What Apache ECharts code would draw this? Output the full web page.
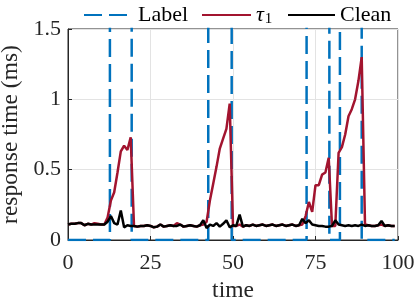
<!DOCTYPE html>
<html>
<head>
<meta charset="utf-8">
<script src="https://cdn.jsdelivr.net/npm/echarts@6/dist/echarts.min.js"></script>
<style>html,body{margin:0;padding:0;background:#fff}#c{width:415px;height:302px}</style>
</head>
<body>
<div id="c"></div>
<script>
// x ticks
const xTicks = [0, 25, 50, 75, 100];
const yTicks = [0, 0.5, 1, 1.5];
// label intervals (anomaly windows)
const labelStarts = [12.7, 42.5, 72.3, 82.4];
const labelEnds   = [19.3, 49.6, 79.2, 89.0];
const labelHigh = 2;
// response time samples, t = 0..99
const tau1 = [
0.11,0.115,0.115,0.12,0.12,0.105,0.115,0.11,0.12,0.115,
0.11,0.11,0.16,0.28,0.34,0.48,0.63,0.67,0.64,0.73,
0.10,0.095,0.10,0.10,0.105,0.10,0.09,0.095,0.11,0.095,
0.10,0.105,0.10,0.12,0.11,0.095,0.10,0.105,0.10,0.095,
0.105,0.11,0.13,0.28,0.40,0.52,0.65,0.72,0.79,0.97,
0.10,0.10,0.11,0.095,0.105,0.10,0.11,0.10,0.105,0.11,
0.10,0.105,0.11,0.10,0.105,0.11,0.10,0.105,0.11,0.10,
0.105,0.11,0.17,0.27,0.20,0.39,0.39,0.465,0.48,0.585,
0.10,0.10,0.62,0.66,0.75,0.88,0.93,1.0,1.13,1.3,
0.11,0.105,0.10,0.10,0.105,0.11,0.10,0.105,0.10,0.10
];
const clean = [
0.11,0.115,0.115,0.12,0.12,0.105,0.115,0.11,0.11,0.11,
0.11,0.11,0.13,0.17,0.12,0.11,0.21,0.09,0.105,0.10,
0.10,0.095,0.10,0.10,0.105,0.10,0.09,0.095,0.11,0.095,
0.10,0.105,0.10,0.10,0.11,0.095,0.10,0.105,0.10,0.095,
0.105,0.14,0.085,0.11,0.10,0.12,0.095,0.115,0.14,0.09,
0.105,0.10,0.18,0.095,0.105,0.10,0.11,0.10,0.105,0.11,
0.10,0.105,0.11,0.10,0.105,0.11,0.10,0.105,0.11,0.10,
0.105,0.15,0.12,0.14,0.11,0.105,0.10,0.10,0.095,0.095,
0.10,0.14,0.11,0.105,0.10,0.105,0.10,0.105,0.10,0.11,
0.10,0.105,0.10,0.10,0.105,0.135,0.10,0.105,0.10,0.10
];
const seriesNames = ['Label', 'τ1', 'Clean'];

const time = tau1.map((_, i) => i);
const labelData = [[0, 0]];
labelStarts.forEach((s, k) => {
  labelData.push([s, 0], [s, labelHigh], [labelEnds[k], labelHigh], [labelEnds[k], 0]);
});
labelData.push([99, 0]);

const FONT = 'Liberation Serif';
const TXT = '#262626';
const LF = 22;
const legendText = {fontFamily: FONT, fontSize: LF, color: '#000',
  rich: {
    i: {fontFamily: FONT, fontStyle: 'italic', fontSize: LF, color: '#000'},
    s: {fontFamily: FONT, fontSize: 15, color: '#000', padding: [8, 0, 0, 1]}
  }};
function mkLegend(name, left, width) {
  return {
    data: [name], top: -1, left: left, itemWidth: width, itemHeight: 14,
    itemStyle: {opacity: 0}, textStyle: legendText,
    formatter: n => n === 'τ1' ? '{i|τ}{s|1}' : n
  };
}
const chart = echarts.init(document.getElementById('c'), null, {renderer: 'canvas'});
chart.setOption({
  animation: false,
  textStyle: {fontFamily: FONT},
  legend: [mkLegend(seriesNames[0], 78, 49), mkLegend(seriesNames[1], 196, 49), mkLegend(seriesNames[2], 282, 47)],
  grid: {left: 68, right: 17, top: 29, bottom: 62, show: true, borderColor: TXT, borderWidth: 1,
         outerBoundsMode: 'none', containLabel: false},
  xAxis: {
    type: 'value', min: xTicks[0], max: xTicks[xTicks.length - 1], interval: 25,
    name: 'time', nameLocation: 'middle', nameGap: 37,
    nameTextStyle: {fontFamily: FONT, fontSize: 23.5, color: TXT},
    axisLine: {lineStyle: {color: TXT, width: 1}},
    axisTick: {inside: true, length: 4, lineStyle: {color: TXT}},
    axisLabel: {fontFamily: FONT, fontSize: 22, color: TXT, margin: 12},
    splitLine: {show: true, lineStyle: {color: '#e3e3e3', width: 1}}
  },
  yAxis: {
    type: 'value', min: yTicks[0], max: yTicks[yTicks.length - 1], interval: 0.5,
    name: 'response time (ms)', nameLocation: 'middle', nameGap: 45,
    nameTextStyle: {fontFamily: FONT, fontSize: 23.5, color: TXT},
    axisLine: {show: true, lineStyle: {color: TXT, width: 1}},
    axisTick: {show: true, inside: true, length: 4, lineStyle: {color: TXT}},
    axisLabel: {fontFamily: FONT, fontSize: 22, color: TXT, margin: 7},
    splitLine: {show: true, lineStyle: {color: '#e3e3e3', width: 1}}
  },
  series: [
    {name: seriesNames[0], type: 'line', data: labelData, symbol: 'none', clip: true,
     lineStyle: {color: '#0072BD', width: 2.5, type: [18, 7]}, itemStyle: {color: '#0072BD'}},
    {name: seriesNames[1], type: 'line', data: time.map((t, i) => [t, tau1[i]]), symbol: 'none',
     lineStyle: {color: '#A2142F', width: 2.5}, itemStyle: {color: '#A2142F'}},
    {name: seriesNames[2], type: 'line', data: time.map((t, i) => [t, clean[i]]), symbol: 'none',
     lineStyle: {color: '#000', width: 2.5}, itemStyle: {color: '#000'}}
  ]
});
</script>
</body>
</html>
